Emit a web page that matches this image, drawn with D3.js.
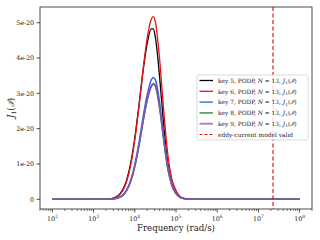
<!DOCTYPE html>
<html><head><meta charset="utf-8">
<script src="https://cdn.jsdelivr.net/npm/d3@7"></script>
<style>body{margin:0;background:#fff}svg{display:block}</style>
</head><body>
<svg id="c" width="320" height="240"></svg>
<script>
// frequencies (rad/s)
const freq = [1e2, 3.16e2, 1e3, 1.58e3, 2.51e3, 3.16e3, 3.98e3, 5.01e3, 6.31e3, 7.94e3, 1e4, 1.26e4, 1.58e4, 2e4, 2.51e4, 2.82e4, 3.16e4, 3.98e4, 5.01e4, 6.31e4, 7.94e4, 1e5, 1.26e5, 1.58e5, 2e5, 2.51e5, 3.98e5, 6.31e5, 1e6, 3.16e6, 1e7, 3.16e7, 1e8];
// J1 values in units of 1e-20
const key5 = [0,0,0,0.001,0.013,0.040,0.106,0.251,0.535,1.018,1.736,2.648,3.614,4.415,4.826,4.828,4.588,3.494,2.121,1.027,0.45,0.19,0.06,0.02,0.006,0.002,0,0,0,0,0,0,0];
const key6 = [0,0,0,0.001,0.011,0.034,0.093,0.227,0.494,0.963,1.679,2.617,3.653,4.562,5.099,5.17,5.025,4.006,2.544,1.289,0.58,0.25,0.08,0.025,0.008,0.002,0,0,0,0,0,0,0];
const key7 = [0,0,0,0,0.004,0.014,0.043,0.111,0.259,0.535,0.980,1.597,2.308,2.963,3.377,3.449,3.388,2.762,1.795,0.930,0.42,0.17,0.06,0.02,0.006,0.002,0,0,0,0,0,0,0];
const key8 = [0,0,0,0,0.004,0.013,0.040,0.105,0.244,0.505,0.925,1.508,2.180,2.800,3.190,3.26,3.200,2.610,1.695,0.878,0.397,0.160,0.056,0.019,0.006,0.002,0,0,0,0,0,0,0];
const key9 = [0,0,0,0,0.004,0.013,0.041,0.106,0.246,0.509,0.932,1.519,2.195,2.818,3.211,3.28,3.222,2.627,1.707,0.884,0.40,0.162,0.057,0.019,0.006,0.002,0,0,0,0,0,0,0];
const seriesNames = ["key 5","key 6","key 7","key 8","key 9"];
const seriesColors = ["#000000","#e8141c","#3a62e4","#2a8a2a","#8a4fbf"];
const eddyLimit = 2.26e7;
const yTicks = [0,1,2,3,4,5];
const yTickLabels = ["0","1e-20","2e-20","3e-20","4e-20","5e-20"];
const xMajor = [2,3,4,5,6,7,8];

const svg = d3.select("#c");
const L=40,R=312,T=7,B=209;
const x = d3.scaleLog().domain([Math.pow(10,1.7),Math.pow(10,8.3)]).range([L,R]);
const y = d3.scaleLinear().domain([-0.275,5.445]).range([B,T]);
const serif = "'DejaVu Serif',serif";

svg.append("clipPath").attr("id","clip").append("rect").attr("x",L).attr("y",T).attr("width",R-L).attr("height",B-T);

const series=[key5,key6,key7,key8,key9];
const line = d3.line().x((d,i)=>x(freq[i])).y(d=>y(d)).curve(d3.curveMonotoneX);
const g = svg.append("g").attr("clip-path","url(#clip)");
series.forEach((s,k)=>{
  g.append("path").attr("d",line(s)).attr("fill","none")
   .attr("stroke",seriesColors[k]).attr("stroke-width",k>=2?1.5:1.3);
});
g.append("line").attr("x1",x(eddyLimit)).attr("x2",x(eddyLimit)).attr("y1",T).attr("y2",B)
 .attr("stroke","#e8141c").attr("stroke-width",1.2).attr("stroke-dasharray","4,2.5");

svg.append("rect").attr("x",L).attr("y",T).attr("width",R-L).attr("height",B-T)
 .attr("fill","none").attr("stroke","#222").attr("stroke-width",0.8);

const ax = svg.append("g");
for(let e=1;e<=8;e++){
  for(let m=1;m<=9;m++){
    const v=m*Math.pow(10,e);
    const px=x(v);
    if(px<L-0.1||px>R+0.1) continue;
    const major = m===1;
    ax.append("line").attr("x1",px).attr("x2",px).attr("y1",B).attr("y2",B+(major?3.5:2))
      .attr("stroke","#222").attr("stroke-width",major?0.8:0.6);
  }
}
xMajor.forEach(e=>{
  const t=ax.append("text").attr("x",x(Math.pow(10,e))).attr("y",B+11.5).attr("text-anchor","middle")
    .attr("font-family",serif).attr("font-size",6.3).attr("fill","#222");
  t.append("tspan").text("10");
  t.append("tspan").attr("dy",-3).attr("font-size",4.5).text(e);
});
yTicks.forEach((v,i)=>{
  ax.append("line").attr("x1",L-3.5).attr("x2",L).attr("y1",y(v)).attr("y2",y(v)).attr("stroke","#222").attr("stroke-width",0.8);
  ax.append("text").attr("x",L-6).attr("y",y(v)+2.3).attr("text-anchor","end")
    .attr("font-family",serif).attr("font-size",6.3).attr("fill","#222").text(yTickLabels[i]);
});
svg.append("text").attr("x",(L+R)/2).attr("y",231).attr("text-anchor","middle")
  .attr("font-family",serif).attr("font-size",8.6).attr("fill","#222").text("Frequency (rad/s)");
const yl = svg.append("text").attr("transform",`translate(14,${(T+B)/2}) rotate(-90)`).attr("text-anchor","middle")
  .attr("font-family",serif).attr("font-size",8.6).attr("fill","#222");
yl.append("tspan").attr("font-style","italic").text("J");
yl.append("tspan").attr("font-size",6).attr("dy",2).text("1");
yl.append("tspan").attr("dy",-2).text("(");
yl.append("tspan").attr("font-style","italic").text("ℐ");
yl.append("tspan").text(")");

const lg = svg.append("g");
const lx=197, ly=75, lw=111, lh=65;
lg.append("rect").attr("x",lx).attr("y",ly).attr("width",lw).attr("height",lh).attr("rx",2)
  .attr("fill","#fff").attr("fill-opacity",0.85).attr("stroke","#d0d0d0").attr("stroke-width",0.8);
const rowY = i => ly+5.5+i*10.8;
seriesNames.forEach((n,k)=>{
  const yy=rowY(k);
  lg.append("line").attr("x1",lx+2.5).attr("x2",lx+16).attr("y1",yy).attr("y2",yy)
    .attr("stroke",seriesColors[k]).attr("stroke-width",k>=2?1.8:1.3).attr("stroke-opacity",k>=2?0.75:1);
  const t=lg.append("text").attr("x",lx+21).attr("y",yy+2.2).attr("font-family",serif).attr("font-size",5.9).attr("fill","#222");
  t.append("tspan").text(n+", PODP, ");
  t.append("tspan").attr("font-style","italic").text("N");
  t.append("tspan").text(" = 13, ");
  t.append("tspan").attr("font-style","italic").text("J");
  t.append("tspan").attr("font-size",4.2).attr("dy",1.3).text("1");
  t.append("tspan").attr("dy",-1.3).text("(");
  t.append("tspan").attr("font-style","italic").text("ℐ");
  t.append("tspan").text(")");
});
{
  const yy=rowY(5);
  lg.append("line").attr("x1",lx+2.5).attr("x2",lx+16).attr("y1",yy).attr("y2",yy)
    .attr("stroke","#e8141c").attr("stroke-width",1.2).attr("stroke-dasharray","3,2");
  lg.append("text").attr("x",lx+21).attr("y",yy+2.2).attr("font-family",serif).attr("font-size",5.9).attr("fill","#222").text("eddy-current model valid");
}
</script>
</body></html>
